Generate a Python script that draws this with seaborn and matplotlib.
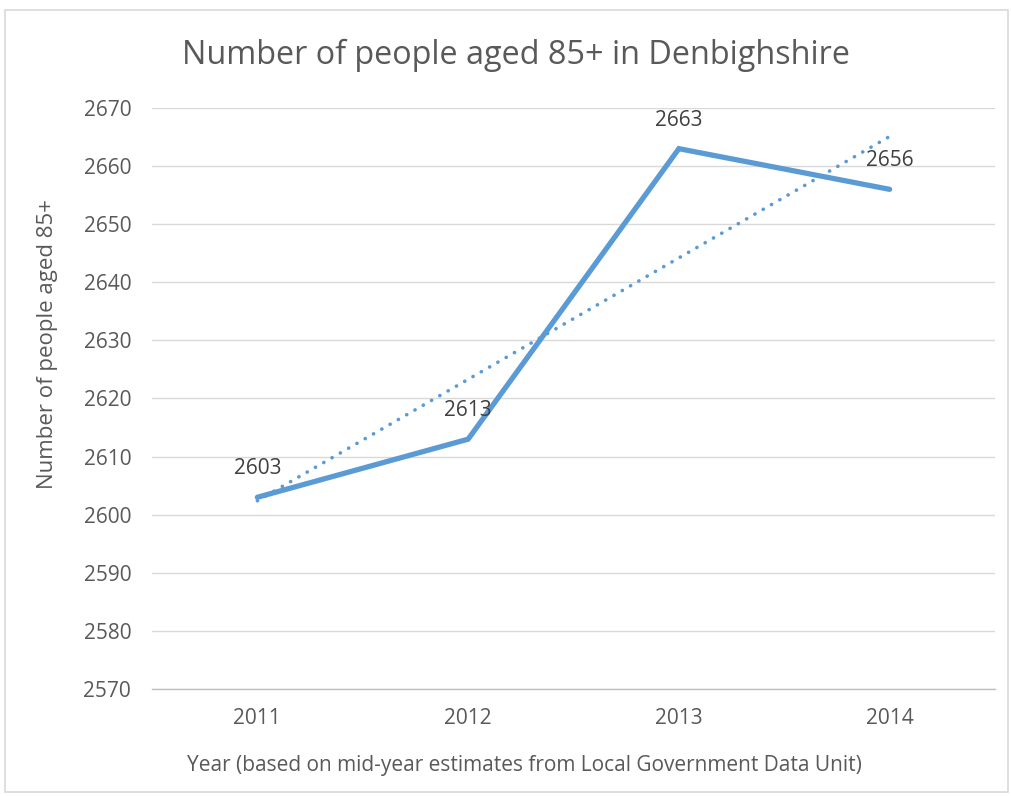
import numpy as np
import pandas as pd
import matplotlib.pyplot as plt
import seaborn as sns
from matplotlib.patches import Rectangle

years = [2011, 2012, 2013, 2014]
people_85 = [2603, 2613, 2663, 2656]

df = pd.DataFrame({'year': years, 'people': people_85})

sns.set_style('white')
plt.rcParams['font.family'] = ['Open Sans', 'DejaVu Sans']

blue = '#5B9BD5'
grey_txt = '#595959'

fig = plt.figure(figsize=(10.11, 7.96), dpi=100)
ax = fig.add_axes([152/1011, 1 - 689/796, (995-152)/1011, (689-108)/796])

# figure border
fig.patches.append(Rectangle((5/1011, 4/796), 1003/1011, 782/796, transform=fig.transFigure,
                             fill=False, edgecolor='#D9D9D9', linewidth=1.2))

# linear trendline (dotted)
sns.regplot(data=df, x='year', y='people', ax=ax, ci=None, scatter=False,
            line_kws=dict(color=blue, linestyle=(0, (0.05, 2.6)), linewidth=2.6,
                          dash_capstyle='round'))
sns.lineplot(data=df, x='year', y='people', ax=ax, color=blue, linewidth=3.8,
             solid_capstyle='round', solid_joinstyle='miter')

for x, y in zip(years, people_85):
    ax.annotate(str(y), (x, y), xytext=(0, 13), textcoords='offset points',
                ha='center', va='bottom', fontsize=15, color='#404040')

ax.set_xlim(2010.5, 2014.5)
ax.set_ylim(2570, 2670)
ax.set_yticks(range(2570, 2671, 10))
ax.set_xticks(years)
ax.set_xticks([2010.5, 2011.5, 2012.5, 2013.5, 2014.5], minor=True)
ax.tick_params(axis='x', which='major', length=0, pad=14, labelsize=15, labelcolor=grey_txt)
ax.tick_params(axis='x', which='minor', length=6, width=1, color='#BFBFBF', direction='out')
ax.tick_params(axis='y', length=0, pad=15, labelsize=15, labelcolor=grey_txt)
ax.grid(axis='y', color='#D9D9D9', linewidth=1)
ax.set_axisbelow(True)
for s in ['top', 'right', 'left']:
    ax.spines[s].set_visible(False)
ax.spines['bottom'].set_color('#BFBFBF')
ax.spines['bottom'].set_linewidth(1)
ax.set_xlabel('')
ax.set_ylabel('')

fig.text(516/1011, 1 - 55/796, 'Number of people aged 85+ in Denbighshire',
         ha='center', va='center', fontsize=23.3, color=grey_txt)
fig.text(48/1011, 1 - 344/796, 'Number of people aged 85+', rotation=90,
         ha='center', va='center', fontsize=16, color=grey_txt)
fig.text(524/1011, 1 - 765/796, 'Year (based on mid-year estimates from Local Government Data Unit)',
         ha='center', va='center', fontsize=15, color=grey_txt)

fig.savefig('out.png', dpi=100, facecolor='white')
